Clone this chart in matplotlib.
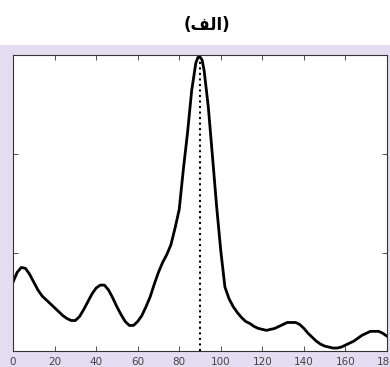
import numpy as np
import matplotlib
matplotlib.use("Agg")
import matplotlib.pyplot as plt
from matplotlib.patches import Rectangle

# values
angle = [0, 2, 4, 6, 8, 10, 12, 14, 16, 18, 20, 22, 24, 26, 28, 30, 32, 34, 36, 38,
         40, 42, 44, 46, 48, 50, 52, 54, 56, 58, 60, 62, 64, 66, 68, 70, 72, 74, 76, 78,
         80, 82, 84, 86, 88, 89, 90, 91, 92, 94, 96, 98, 100, 102, 104, 106, 108, 110,
         112, 114, 116, 118, 120, 122, 124, 126, 128, 130, 132, 134, 136, 138, 140, 142,
         144, 146, 148, 150, 152, 154, 156, 158, 160, 162, 164, 166, 168, 170, 172, 174,
         176, 178, 180]
power = [0.70, 0.80, 0.85, 0.84, 0.78, 0.70, 0.62, 0.56, 0.52, 0.48, 0.44, 0.40, 0.36,
         0.33, 0.31, 0.31, 0.35, 0.42, 0.50, 0.58, 0.64, 0.67, 0.67, 0.62, 0.54, 0.45,
         0.37, 0.30, 0.26, 0.26, 0.30, 0.36, 0.45, 0.55, 0.68, 0.80, 0.90, 0.98, 1.08,
         1.25, 1.44, 1.85, 2.22, 2.65, 2.93, 2.985, 2.99, 2.96, 2.85, 2.48, 1.98, 1.47,
         1.02, 0.65, 0.53, 0.45, 0.39, 0.34, 0.30, 0.28, 0.25, 0.23, 0.22, 0.21, 0.22,
         0.23, 0.25, 0.27, 0.29, 0.29, 0.29, 0.27, 0.23, 0.18, 0.14, 0.10, 0.07, 0.05,
         0.04, 0.03, 0.03, 0.04, 0.06, 0.08, 0.10, 0.13, 0.16, 0.18, 0.20, 0.20, 0.20,
         0.18, 0.15]
peak_angle = 90
peak_value = 2.99
xticks = [0, 20, 40, 60, 80, 100, 120, 140, 160, 180]
yticks = [1, 2]
# "(الف)" written in visual order with presentation forms (no shaping in matplotlib)
title = "(\uFED2\uFEDF\u0627)"

fig = plt.figure(figsize=(3.9, 3.67), dpi=100, facecolor="#e2ddf0")
fig.patches.append(Rectangle((0, 1 - 45 / 367), 1, 45 / 367, transform=fig.transFigure,
                             facecolor="white", edgecolor="none", zorder=0))
fig.text(207 / 390, 1 - 25 / 367, title, ha="center", va="center",
         fontsize=12, fontweight="bold", family="DejaVu Sans")

ax = fig.add_axes([13 / 390, 1 - 351 / 367, 374 / 390, 296 / 367])
ax.plot(angle, power, color="black", lw=2, solid_joinstyle="round")
ax.vlines(peak_angle, 0, peak_value, colors="black", linestyles=":", lw=1.5)

ax.set_xlim(0, 180)
ax.set_ylim(0, 3.01)
ax.set_xticks(xticks)
ax.set_yticks(yticks)
ax.set_yticklabels([])
ax.tick_params(direction="in", top=True, right=True, length=3.5, width=0.6,
               colors="#333333", labelsize=7.5, pad=4)
ax.tick_params(axis="x", labelcolor="#444444")
for s in ax.spines.values():
    s.set_color("#333333")
    s.set_linewidth(0.8)

fig.savefig("out.png", dpi=100, facecolor=fig.get_facecolor())
